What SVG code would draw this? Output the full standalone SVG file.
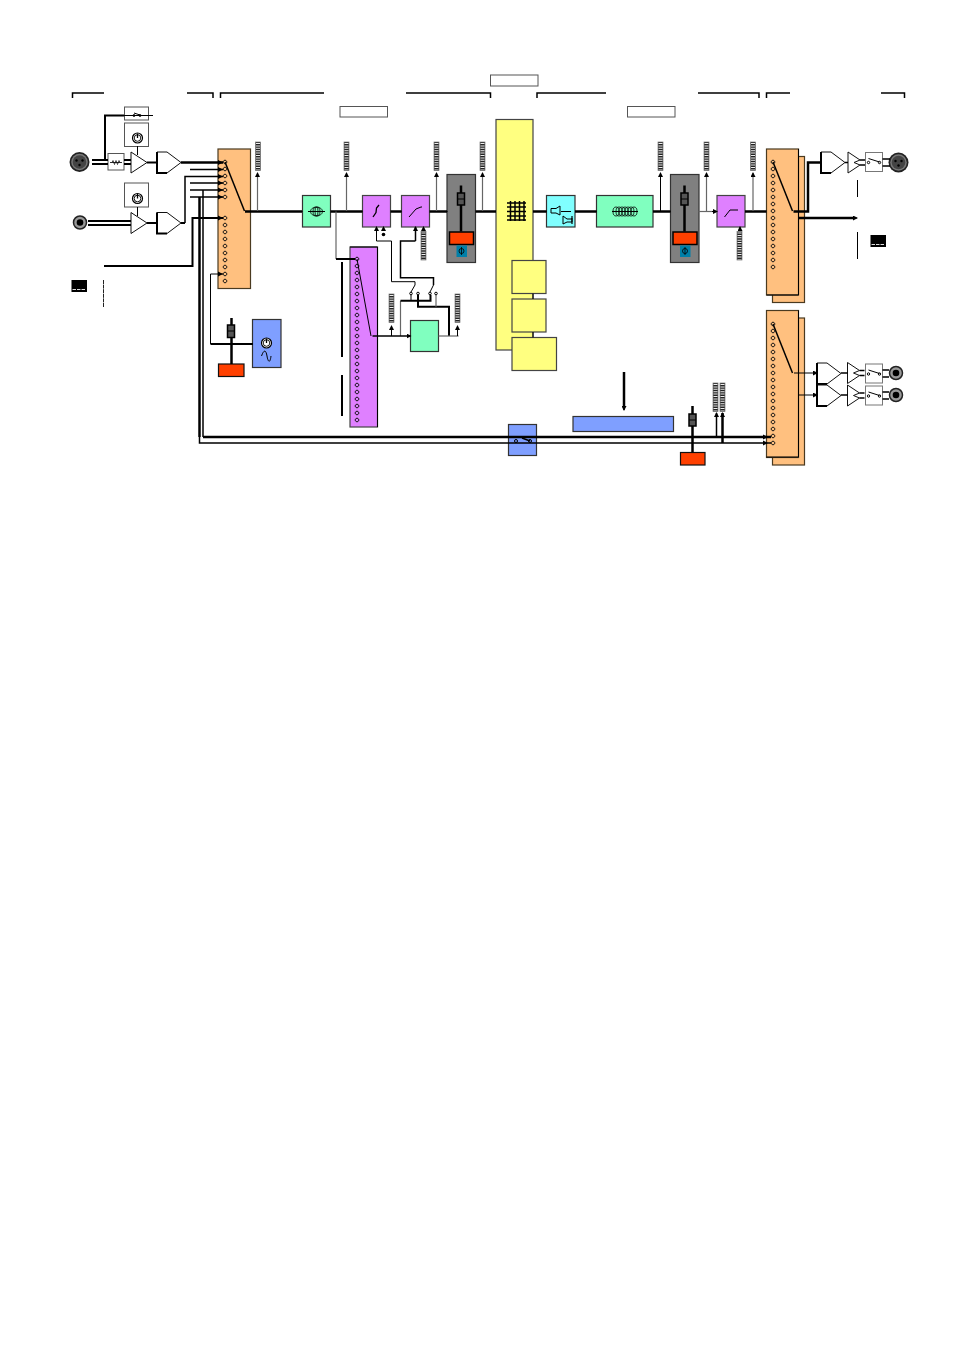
<svg xmlns="http://www.w3.org/2000/svg" width="954" height="1350" viewBox="0 0 954 1350">
<style>
.or{fill:#ffc07f;stroke:#4a3a20;stroke-width:1.2}
.pu{fill:#df80ff;stroke:#444;stroke-width:1.2}
.gr{fill:#80ffbf;stroke:#333;stroke-width:1.2}
.ye{fill:#ffff80;stroke:#444;stroke-width:1.2}
.bl{fill:#7f9fff;stroke:#333;stroke-width:1.2}
.cy{fill:#80ffff;stroke:#333;stroke-width:1.2}
.rd{fill:#ff4000;stroke:#111;stroke-width:1.2}
.wb{fill:#fff;stroke:#555;stroke-width:1}
.fd{fill:#808080;stroke:#333;stroke-width:1.2}
.dots{fill:none;stroke:#111;stroke-width:1}
.w{fill:#fff;stroke:#111;stroke-width:1}
.t{fill:none;stroke:#000;stroke-width:1}
.m{fill:none;stroke:#000;stroke-width:1.5}
.k{fill:none;stroke:#000;stroke-width:2}
.K{fill:none;stroke:#000;stroke-width:2.5}
.g{fill:none;stroke:#666;stroke-width:1.2}
.ah{fill:#000}
</style>
<defs>
<marker id="a" markerUnits="userSpaceOnUse" markerWidth="5" markerHeight="5" refX="4" refY="2.500" orient="auto"><path d="M0 0L5 2.500L0 5z" class="ah"/></marker>
<g id="meter"><rect x="-2.500" y="0" width="5" height="28.500" fill="#222" stroke="#777" stroke-width=".7"/><path d="M0 1V28" stroke="#eee" stroke-width="4" stroke-dasharray="1 1.400" fill="none"/></g>
<g id="knob"><circle r="5" fill="#fff" stroke="#000" stroke-width="1.200"/><circle r="3.300" fill="none" stroke="#000" stroke-width=".9"/><path d="M0 -4.500V0" stroke="#000" stroke-width="1.300"/></g>
<g id="amp"><path d="M0 0H10L24 10.500L10 21H0z" class="w"/><path d="M0 0V21H10" class="k"/></g>
<g id="tri"><path d="M0 0L16 10.500L0 21z" class="w"/></g>
<g id="driver"><path d="M0 0L12 8L6 10.500L12 13L0 21z" class="w"/><path d="M12 8H17M12 13H17" class="m"/></g>
<g id="sw"><rect width="17" height="19" fill="#fff" stroke="#777"/><circle cx="3" cy="10" r="1.200" class="t"/><circle cx="14" cy="10" r="1.200" class="t"/><path d="M3 6L14 9.500" class="t"/></g>
<g id="jack"><circle r="6.500" fill="#999" stroke="#222" stroke-width="1.500"/><circle r="3.300" fill="#000"/></g>
<g id="xlr"><circle r="10" fill="#222"/><circle r="8.300" fill="#777"/><circle r="6.800" fill="#444"/><circle cx="-3" cy="-1.500" r="1.200" fill="#000"/><circle cx="3" cy="-1.500" r="1.200" fill="#000"/><circle cx="0" cy="3" r="1.200" fill="#000"/></g>
<g id="fader"><rect width="28.500" height="88" class="fd"/><path d="M14 11V57" stroke="#000" stroke-width="2.500"/><rect x="10.500" y="18.500" width="7" height="12" fill="#555" stroke="#000" stroke-width="1.500"/><path d="M10.500 24.500H17.500" stroke="#000"/><rect x="2.500" y="57.500" width="24" height="12.500" fill="#ff4000" stroke="#000" stroke-width="1.500"/><rect x="9.500" y="71" width="10.500" height="11.500" fill="#007fa8"/><circle cx="14.500" cy="76.500" r="2.500" fill="none" stroke="#000" stroke-width=".8"/><path d="M14.500 72.500V80.500" stroke="#000" stroke-width=".8"/></g>
<g id="lcd"><rect width="15.500" height="12" fill="#000"/><path d="M1 9.500H14.500" stroke="#ddd" stroke-width="1" stroke-dasharray="3.500 1"/></g>
<path id="c2" class="dots" d="M0 -1.800a1.800 1.800 0 1 0 .01 0m0 7a1.800 1.800 0 1 0 .01 0"/>
<g id="c8"><use href="#c2"/><use href="#c2" y="14"/><use href="#c2" y="28"/><use href="#c2" y="42"/></g>
</defs>

<g id="brackets" fill="none" stroke="#000" stroke-width="1.500">
<path d="M72.500 98V93H104M187 93H213V98M220.500 98V93H324M406 93H490.500V98M537 98V93H606M698 93H759V98M766.500 98V93H790M881 93H904.500V98"/>
</g>
<g id="labels"><rect x="490.500" y="75" width="47.500" height="11" class="wb"/><rect x="340" y="106.500" width="47.500" height="10.500" class="wb"/><rect x="627.500" y="106.500" width="47.500" height="10.500" class="wb"/></g>

<g id="mix"><rect x="496" y="119.500" width="37" height="230.500" class="ye"/><path d="M507 203H526M507 207H526M507 211.500H526M507 216H526M507 220H526M510.500 201V221M515 201V221M519.500 201V221M524 201V221" stroke="#000" stroke-width="1.500"/></g>

<g id="input1"><use href="#xlr" x="79.500" y="162"/>
<rect x="108" y="153.500" width="16" height="16.500" fill="#fff" stroke="#555"/><path d="M110 162.500H122" stroke="#000" stroke-width=".8"/><path d="M112 162.500L113 160.500L114.500 164.500L116 160.500L117.500 164.500L119 160.500L120 162.500" fill="none" stroke="#000" stroke-width=".7"/>
<rect x="124.500" y="107" width="24" height="13" fill="#fff" stroke="#555"/><circle cx="134" cy="115.500" r="1" class="t"/><circle cx="140" cy="115.500" r="1" class="t"/><path d="M134 113L140 115" class="t"/>
<rect x="124.500" y="123" width="24" height="23.500" fill="#fff" stroke="#555"/><use href="#knob" x="137.500" y="138"/>
<use href="#tri" x="131" y="152"/><use href="#amp" x="157" y="152"/></g>
<g id="input2"><use href="#jack" x="80" y="222.500"/>
<rect x="124.500" y="183" width="24" height="24" fill="#fff" stroke="#555"/><use href="#knob" x="137.500" y="198.500"/>
<use href="#tri" x="131" y="212.500"/><use href="#amp" x="157" y="212.500"/></g>
<g id="lcd-left"><use href="#lcd" x="71.500" y="280"/><path d="M103.500 280V307" stroke="#222" stroke-dasharray="4 .6" fill="none"/></g>

<g id="patch-in"><rect x="218" y="149" width="32.500" height="139.500" class="or"/>
<use href="#c2" x="225" y="162"/><use href="#c2" x="225" y="176"/><use href="#c2" x="225" y="190"/>
<use href="#c8" x="225" y="218"/><use href="#c2" x="225" y="274"/>
<path class="m" d="M225 162L244.500 211"/></g>

<g id="osc"><rect x="252.500" y="319.500" width="28.500" height="48" class="bl"/><use href="#knob" x="266.500" y="343"/><path d="M261.500 356C264 349 266 350 267 356S270 364 271 356" class="t"/></g>
<g id="fader-osc"><rect x="218.500" y="364" width="25.500" height="12.500" class="rd"/></g>

<g id="hpf"><rect x="302.500" y="195.500" width="28" height="31.500" class="gr"/><g fill="none" stroke="#000" stroke-width=".8"><ellipse cx="316.500" cy="211.500" rx="6" ry="4.500"/><ellipse cx="316.500" cy="211.500" rx="3.500" ry="4.500"/><ellipse cx="316.500" cy="211.500" rx="1.500" ry="4.500"/></g><path d="M308 211.500H325" stroke="#000"/></g>
<g id="gate"><rect x="362.500" y="195.500" width="28" height="31.500" class="pu"/><path d="M373 217L376 212.500L376.500 208L379 205" fill="none" stroke="#000" stroke-width="1.300"/></g>
<g id="comp"><rect x="401.500" y="195.500" width="28" height="31.500" class="pu"/><path d="M409 217L416 209L421 207H422" fill="none" stroke="#000"/></g>
<use id="fader-ch" href="#fader" x="447" y="174.500"/>

<g id="patch-side"><rect x="350" y="247" width="27.500" height="180" class="pu"/><path d="M350 247H377.500V427" fill="none" stroke="#000" stroke-width="1"/>
<use href="#c8" x="357" y="259"/><use href="#c8" x="357" y="315"/><use href="#c8" x="357" y="371"/>
<path class="t" d="M357 259L371 336"/></g>
<g id="fx"><rect x="410.500" y="320.500" width="28" height="31" class="gr"/></g>

<g id="sub1"><rect x="512" y="260.500" width="34" height="33" class="ye"/></g>
<g id="sub2"><rect x="512" y="299" width="34" height="33" class="ye"/></g>
<g id="sub3"><rect x="512" y="337.500" width="44.500" height="33" class="ye"/></g>

<g id="delay"><rect x="546.500" y="195.500" width="28.500" height="31.500" class="cy"/><path d="M551 208.500H556L560 206V215L556 213H551zM572 219H567L563 216V224L567 222H572V218" fill="none" stroke="#000"/><path d="M561 211.500H571M572 216V224" stroke="#000" stroke-width="1.200"/></g>
<g id="eq"><rect x="596.500" y="195.500" width="56.500" height="31.500" class="gr"/><g fill="none" stroke="#000" stroke-width=".8"><ellipse cx="616" cy="211.500" rx="3" ry="4.500"/><ellipse cx="619" cy="211.500" rx="3" ry="4.500"/><ellipse cx="622" cy="211.500" rx="3" ry="4.500"/><ellipse cx="625" cy="211.500" rx="3" ry="4.500"/><ellipse cx="628" cy="211.500" rx="3" ry="4.500"/><ellipse cx="631" cy="211.500" rx="3" ry="4.500"/><ellipse cx="634" cy="211.500" rx="3" ry="4.500"/></g><path d="M612 211.500H638" stroke="#000"/></g>
<use id="fader-out" href="#fader" x="670.500" y="174.500"/>
<g id="limit"><rect x="717" y="195.500" width="28" height="31.500" class="pu"/><path d="M724.500 217L730 210H738" fill="none" stroke="#000"/></g>

<g id="meters">
<use href="#meter" x="258" y="142"/><use href="#meter" x="346.500" y="142"/><use href="#meter" x="436.500" y="142"/><use href="#meter" x="482.500" y="142"/><use href="#meter" x="660.500" y="142"/><use href="#meter" x="706.500" y="142"/><use href="#meter" x="753" y="142"/>
<use href="#meter" x="423.500" y="231.500"/><use href="#meter" x="739.500" y="231.500"/><use href="#meter" x="391.500" y="294"/><use href="#meter" x="457.500" y="294"/><use href="#meter" x="715.500" y="383"/><use href="#meter" x="722.500" y="383"/>
</g>

<g id="patch-out1"><rect x="772.500" y="156.500" width="32" height="146" class="or"/><rect x="766.500" y="149" width="32" height="146" class="or"/><path d="M798.500 149V295H766.500" fill="none" stroke="#000"/>
<use href="#c8" x="773" y="162"/><use href="#c8" x="773" y="218"/><path class="m" d="M773 162L792.500 211"/></g>
<g id="out1"><use href="#amp" x="821" y="152"/><use href="#driver" x="848" y="152"/><use href="#sw" x="865.500" y="152.500"/><use href="#xlr" x="898.500" y="162.500"/></g>
<g id="lcd-right"><path d="M857.500 180V197M857.500 232V259" stroke="#000" fill="none"/><use href="#lcd" x="870.500" y="235"/></g>

<g id="patch-out2"><rect x="772.500" y="318" width="32" height="147" class="or"/><rect x="766.500" y="310.500" width="32" height="147" class="or"/><path d="M798.500 310.500V457H766.500" fill="none" stroke="#000"/>
<use href="#c8" x="773" y="324"/><use href="#c8" x="773" y="380"/><use href="#c2" x="773" y="436"/><path class="m" d="M773 324L792.500 373"/></g>
<g id="out2"><use href="#amp" x="817" y="363"/><use href="#driver" x="847.500" y="362.500"/><use href="#sw" x="865.500" y="364"/><use href="#jack" x="896" y="373"/></g>
<g id="out3"><use href="#amp" x="817" y="385"/><use href="#driver" x="847.500" y="385"/><use href="#sw" x="865.500" y="386"/><use href="#jack" x="896" y="395"/></g>

<g id="bus-sw"><rect x="508.500" y="424.500" width="28" height="31" class="bl"/><circle cx="516" cy="441" r="1.500" class="t"/><circle cx="530" cy="441" r="1.500" class="t"/><path d="M522 438L530 441" stroke="#000" stroke-width="1.500"/></g>
<g id="bar"><rect x="573" y="416.500" width="100.500" height="15" class="bl"/></g>
<g id="fader-aux"><rect x="680.500" y="452.500" width="24.500" height="12.500" class="rd"/></g>

<g id="connectors">
<path class="k" d="M92 160H108M92 164H108M124 160H131M124 164H131M88 221H131M88 225H131"/>
<path class="k" d="M105 160V115.500H124"/><path class="t" d="M124 115.500H153"/>
<path class="t" d="M137.500 146V155M137.500 207V216"/>
<path class="k" d="M147 162.500H157M147 223H157M181 223H185"/>
<path class="K" d="M181 162.500H223"/>
<path class="m" d="M185 223V176.500H223M190 169.500H223M190 183H223M190 190H223M190 197H223"/>
<path class="K" d="M199.500 197V437"/>
<path class="m" d="M203 190V437"/>
<path class="k" d="M104 266H192.500V218H223"/>
<path class="t" d="M210.500 344V274H223"/>
<path class="k" d="M210.500 344H253"/>
<path class="K" d="M231.500 318V364"/>
<g id="fader-cap"><rect x="227.500" y="325" width="7" height="12.500" fill="#555" stroke="#000" stroke-width="1.500"/><path d="M227.500 331H234.500" stroke="#000"/></g>
<path class="K" d="M245 211.500H302M330.500 211.500H362.500M390.500 211.500H401.500M429.500 211.500H447M475.500 211.500H496M533 211.500H546.500M575 211.500H596.500M653 211.500H670.500M745 211.500H766.500"/>
<path class="g" stroke-width="1.500" d="M698.500 211.500H717"/>
<path class="t" marker-end="url(#a)" d="M298 211.500H302.500M358 211.500H362.500M397 211.500H401.500M443 211.500H447.500M542 211.500H546.500M592 211.500H596.500M666 211.500H670.500M712 211.500H717"/>
<path class="g" marker-end="url(#a)" d="M257.500 211V173"/>
<path class="g" marker-end="url(#a)" d="M346.500 211V173"/>
<path class="g" marker-end="url(#a)" d="M436.500 211V173"/>
<path class="g" marker-end="url(#a)" d="M482.500 211V173"/>
<path class="t" marker-end="url(#a)" d="M660.500 211V173"/>
<path class="g" marker-end="url(#a)" d="M706.500 211V173"/>
<path class="g" marker-end="url(#a)" d="M753 211V173"/>
<path class="t" marker-end="url(#a)" d="M740 231V227"/>
<path class="t" marker-end="url(#a)" d="M423.500 231V227"/>
<path class="g" d="M336 211.500V259"/><path class="k" d="M336 259H355"/>
<path class="k" d="M342 262V357M342 375V416"/>
<path class="t" marker-end="url(#a)" d="M376.500 241V227"/>
<path class="t" d="M376.500 241H391.500V281.700H415V285"/>
<path class="m" marker-end="url(#a)" d="M415.500 241V227"/>
<path class="m" d="M415.500 241H400.500V277.700H433.500V285"/>
<path class="t" marker-end="url(#a)" d="M383.500 231V227"/><circle cx="383.500" cy="234.500" r="1.800" fill="#000"/>
<path class="t" d="M411 292L415 285M430 292L433.500 285"/>
<path class="g" d="M400.500 336V300.700"/><path class="k" d="M400.500 300.700H430.500V295"/><path class="t" d="M411 295V300.700"/>
<path class="k" d="M449 336V306.700H418V295"/><path class="g" d="M436 295V306.700"/>
<circle cx="411" cy="293.500" r="1.300" class="t"/><circle cx="418" cy="293.500" r="1.300" class="t"/><circle cx="430" cy="293.500" r="1.300" class="t"/><circle cx="436" cy="293.500" r="1.300" class="t"/>
<path class="m" marker-end="url(#a)" d="M372.500 336H410.500"/>
<path class="g" d="M438.500 336H458.500"/>
<path class="t" marker-end="url(#a)" d="M391.500 336V326"/>
<path class="t" marker-end="url(#a)" d="M457.500 336V326"/>
<path class="t" d="M533 293.500V299M533 332V337.500"/>
<path class="K" d="M793.500 211.500H808V162.500H821"/>
<path class="K" d="M798.500 218H853"/><path marker-end="url(#a)" class="t" d="M850 218H857"/>
<path class="m" d="M845 162.500H848M882.500 159H890M882.500 166H890"/>
<path class="t" marker-end="url(#a)" d="M794 373H817"/>
<path class="t" marker-end="url(#a)" d="M798.500 395H817"/>
<path class="m" d="M841 373H848M841 395H848M882.500 370H889M882.500 377H889M882.500 392H889M882.500 399H889"/>
<path class="K" d="M203 437H771"/>
<path class="m" d="M199.500 437V443H771"/>
<path class="K" d="M624 372V406"/><path marker-end="url(#a)" class="m" d="M624 404V410"/>
<path class="K" d="M692.500 406V452.500"/>
<g id="aux-cap"><rect x="689" y="414" width="7" height="12" fill="#555" stroke="#000" stroke-width="1.500"/><path d="M689 420H696" stroke="#000"/></g>
<path class="m" marker-end="url(#a)" d="M716.500 436V413"/>
<path class="K" marker-end="url(#a)" d="M722.500 443V413"/>
<path class="ah" d="M218 160L223 162.500L218 165zM218 167L223 169.500L218 172zM218 174L223 176.500L218 179zM218 180.500L223 183L218 185.500zM218 187.500L223 190L218 192.500zM218 194.500L223 197L218 199.500zM218 215.500L223 218L218 220.500zM218 271.500L223 274L218 276.500zM763 434.500L768 437L763 439.500zM763 440.500L768 443L763 445.500z"/>
</g>
</svg>
